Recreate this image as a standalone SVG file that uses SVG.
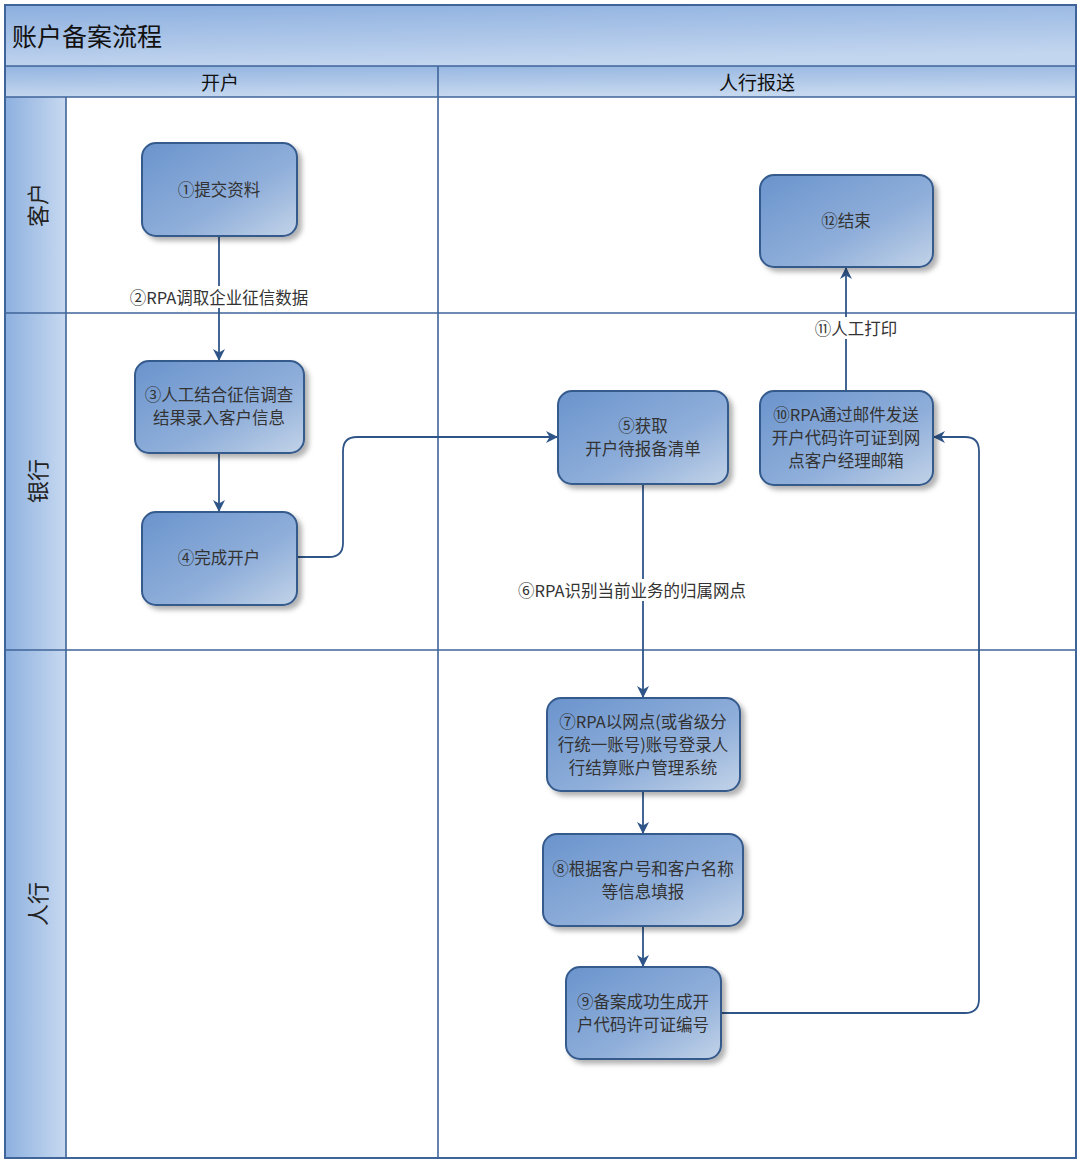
<svg xmlns="http://www.w3.org/2000/svg" width="1080" height="1165" viewBox="0 0 1080 1165">
<defs>
<linearGradient id="gTitle" x1="0" y1="0" x2="0.3" y2="1">
<stop offset="0" stop-color="#8cafdf"/>
<stop offset="1" stop-color="#c3d6ef"/>
</linearGradient>
<linearGradient id="gHead" x1="0" y1="0" x2="0.2" y2="1">
<stop offset="0" stop-color="#93b4e0"/>
<stop offset="1" stop-color="#c6d8ef"/>
</linearGradient>
<linearGradient id="gLane" x1="0" y1="0" x2="1" y2="0">
<stop offset="0" stop-color="#8db0df"/>
<stop offset="1" stop-color="#c7d9f0"/>
</linearGradient>
<linearGradient id="gNode" x1="0" y1="0" x2="1" y2="1">
<stop offset="0" stop-color="#6a94cd"/>
<stop offset="0.6" stop-color="#90afda"/>
<stop offset="1" stop-color="#c2d3e8"/>
</linearGradient>
<filter id="sh" x="-10%" y="-10%" width="130%" height="130%">
<feDropShadow dx="4" dy="4" stdDeviation="2.5" flood-color="#000" flood-opacity="0.3"/>
</filter>
<marker id="arr" viewBox="0 0 10 10" refX="10" refY="5" markerWidth="12" markerHeight="12" markerUnits="userSpaceOnUse" orient="auto">
<path d="M0,0 L10,5 L0,10 L3,5 Z" fill="#2f5588"/>
</marker>
<style>
.frame{fill:none;stroke:#3f649a;stroke-width:2}
.ln{stroke:#3f649a;stroke-width:1.6;fill:none}
.node rect{fill:url(#gNode);stroke:#355a8c;stroke-width:2;filter:url(#sh)}
.nt{font-family:"Noto Sans CJK SC","Liberation Sans",sans-serif;font-size:16.5px;fill:#333;text-anchor:middle;dominant-baseline:central}
.lbl{font-family:"Noto Sans CJK SC","Liberation Sans",sans-serif;font-size:16.5px;fill:#333;text-anchor:middle;dominant-baseline:central}
.hd{font-family:"Noto Sans CJK SC",serif;font-size:19px;fill:#111;text-anchor:middle;dominant-baseline:central}
.lane{font-family:"Noto Sans CJK SC",serif;font-size:22px;fill:#222;text-anchor:middle;dominant-baseline:central}
.conn{stroke:#2f5588;stroke-width:1.8;fill:none}
</style>
</defs>
<rect x="0" y="0" width="1080" height="1165" fill="#fff"/>
<g id="pool">
<rect x="5" y="5" width="1071" height="61" fill="url(#gTitle)"/>
<rect x="5" y="66" width="1071" height="31" fill="url(#gHead)"/>
<rect x="5" y="97" width="61" height="1061" fill="url(#gLane)"/>
<text x="12" y="35" font-family="Noto Sans CJK SC,serif" font-size="25" fill="#111" dominant-baseline="central">账户备案流程</text>
<text class="hd" x="220" y="81">开户</text>
<text class="hd" x="757" y="81">人行报送</text>
<text class="lane" transform="translate(36,205) rotate(-90)">客户</text>
<text class="lane" transform="translate(36,481) rotate(-90)">银行</text>
<text class="lane" transform="translate(36,904) rotate(-90)">人行</text>
<rect class="frame" x="5" y="5" width="1071" height="1153"/>
<line class="ln" x1="5" y1="66" x2="1076" y2="66"/>
<line class="ln" x1="5" y1="97" x2="1076" y2="97"/>
<line class="ln" x1="66" y1="97" x2="66" y2="1158"/>
<line class="ln" x1="438" y1="66" x2="438" y2="1158"/>
<line class="ln" x1="5" y1="313" x2="1076" y2="313"/>
<line class="ln" x1="5" y1="650" x2="1076" y2="650"/>
</g>
<g id="connectors">
<line class="conn" x1="219" y1="236" x2="219" y2="361" marker-end="url(#arr)"/>
<rect x="122" y="286" width="194" height="22" fill="#fff"/>
<text class="lbl" x="219" y="297">②RPA调取企业征信数据</text>
<line class="conn" x1="219" y1="453" x2="219" y2="512" marker-end="url(#arr)"/>
<path class="conn" d="M297,557 H329 Q343,557 343,543 V451 Q343,437 357,437 H558" marker-end="url(#arr)"/>
<line class="conn" x1="643" y1="484" x2="643" y2="698" marker-end="url(#arr)"/>
<rect x="511" y="579" width="242" height="22" fill="#fff"/>
<text class="lbl" x="632" y="590">⑥RPA识别当前业务的归属网点</text>
<line class="conn" x1="643" y1="791" x2="643" y2="834" marker-end="url(#arr)"/>
<line class="conn" x1="643" y1="926" x2="643" y2="967" marker-end="url(#arr)"/>
<path class="conn" d="M721,1013 H965 Q979,1013 979,999 V451 Q979,437 965,437 H933" marker-end="url(#arr)"/>
<line class="conn" x1="846" y1="391" x2="846" y2="267" marker-end="url(#arr)"/>
<rect x="810" y="317" width="92" height="22" fill="#fff"/>
<text class="lbl" x="856" y="328">⑪人工打印</text>
</g>
<g id="n1" class="node"><rect x="142" y="143" width="155" height="93" rx="14"/><text class="nt" x="219" y="189">①提交资料</text></g>
<g id="n3" class="node"><rect x="135" y="361" width="169" height="92" rx="14"/><text class="nt" x="219" y="394">③人工结合征信调查</text><text class="nt" x="219" y="417">结果录入客户信息</text></g>
<g id="n4" class="node"><rect x="142" y="512" width="155" height="93" rx="14"/><text class="nt" x="219" y="557">④完成开户</text></g>
<g id="n5" class="node"><rect x="558" y="391" width="170" height="93" rx="14"/><text class="nt" x="643" y="425">⑤获取</text><text class="nt" x="643" y="448">开户待报备清单</text></g>
<g id="n10" class="node"><rect x="760" y="391" width="173" height="94" rx="14"/><text class="nt" x="846" y="414">⑩RPA通过邮件发送</text><text class="nt" x="846" y="437">开户代码许可证到网</text><text class="nt" x="846" y="460">点客户经理邮箱</text></g>
<g id="n12" class="node"><rect x="760" y="175" width="173" height="92" rx="14"/><text class="nt" x="846" y="220">⑫结束</text></g>
<g id="n7" class="node"><rect x="547" y="698" width="193" height="93" rx="14"/><text class="nt" x="643" y="721">⑦RPA以网点(或省级分</text><text class="nt" x="643" y="744">行统一账号)账号登录人</text><text class="nt" x="643" y="767">行结算账户管理系统</text></g>
<g id="n8" class="node"><rect x="543" y="834" width="200" height="92" rx="14"/><text class="nt" x="643" y="868">⑧根据客户号和客户名称</text><text class="nt" x="643" y="891">等信息填报</text></g>
<g id="n9" class="node"><rect x="566" y="967" width="155" height="92" rx="14"/><text class="nt" x="643" y="1001">⑨备案成功生成开</text><text class="nt" x="643" y="1024">户代码许可证编号</text></g>
</svg>
